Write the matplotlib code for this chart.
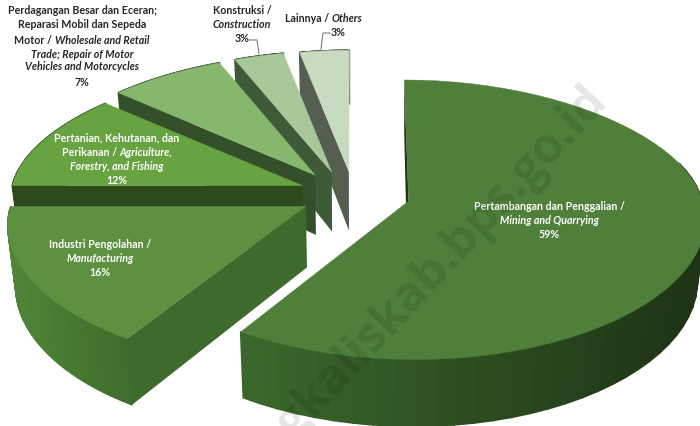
#Pie 3D meledak, digambar sebagai poligon
import numpy as np
import matplotlib
matplotlib.use("Agg")
import matplotlib.pyplot as plt
from matplotlib.colors import to_rgb

# data
sektor = ["Pertambangan", "Industri", "Pertanian", "Perdagangan", "Konstruksi", "Lainnya"]
nilai = [59, 16, 12, 7, 3, 3]
warna_atas = ["#4f7f3a", "#5d9140", "#67a340", "#85b86c", "#a8c79a", "#c8dabf"]
warna_potong = ["#1f3315", "#3f6a2e", "#2c4a1b", "#33502a", "#3f5a38", "#555f50"]
warna_kiri = ["#3b682c", "#4e8436", "#2c4a1b", "#33502a", "#3f5a38", "#555f50"]
warna_kanan = ["#1f3315", "#3d6b2d", "#2c4a1b", "#33502a", "#3f5a38", "#555f50"]
geser = [0, 0, -1, -9, -8, -1]

# tiap baris: potongan (teks, miring)
label_main = [[("Pertambangan dan Penggalian /", False)], [("Mining and Quarrying", True)], [("59%", False)]]
label_ind = [[("Industri Pengolahan /", False)], [("Manufacturing", True)], [("16%", False)]]
label_tani = [[("Pertanian, Kehutanan, dan", False)],
              [("Perikanan / ", False), ("Agriculture,", True)],
              [("Forestry, and Fishing", True)], [("12%", False)]]
label_dagang = [[("Perdagangan Besar dan Eceran;", False)], [("Reparasi Mobil dan Sepeda", False)],
                [("Motor / ", False), ("Wholesale and Retail", True)],
                [("Trade; Repair of Motor", True)], [("Vehicles and Motorcycles", True)], [("7%", False)]]
label_kons = [[("Konstruksi /", False)], [("Construction", True)], [("3%", False)]]
label_lain = [[("Lainnya / ", False), ("Others", True)]]

cx, cy = 355, 195
rx = 292
ledak = 0.19


def proyeksi(X, V, d=0.0):
    s = np.where(V > 0, 1 - 0.08 * V, 1 - 0.12 * V)
    x = cx + rx * X * s
    # bagian depan lebih lebar dari bagian belakang
    naik = np.where(V > 0, 119 * V + 1.5 * V ** 2, 133 * V - 23 * V ** 2)
    y = cy - naik
    if d:
        x = cx + (x - cx) * 0.977
        y = y + d - 6 * V
    return x, y


def campur(c1, c2, t):
    a = np.array(to_rgb(c1))
    b = np.array(to_rgb(c2))
    return tuple(a + (b - a) * t)


def teks(ax, xc, y, baris, warna, fs=7.7):
    # ukur dulu semua potongan supaya satu baris bisa di tengah
    r = fig.canvas.get_renderer()
    items = []
    for isi, miring in baris:
        gaya = "italic" if miring else "normal"
        t = ax.text(0, y, isi.replace(" ", "\u00a0"), color=warna, fontsize=fs, family="Lato", weight="bold",
                    style=gaya, ha="left", va="center")
        items.append((t, t.get_window_extent(r).width))
    x = xc - sum(w for _, w in items) / 2
    for t, w in items:
        t.set_x(x)
        x += w


fig = plt.figure(figsize=(7, 4.27), dpi=100)
ax = fig.add_axes([0, 0, 1, 1])
ax.set_xlim(0, 700)
ax.set_ylim(427, 0)
ax.axis("off")

# sudut searah jarum jam dari atas, belakang digambar dulu
batas = np.cumsum([0] + nilai) / sum(nilai) * 2 * np.pi
for i in range(len(nilai) - 1, -1, -1):
    t0, t1 = batas[i], batas[i + 1]
    tm = (t0 + t1) / 2
    X0 = ledak * np.sin(tm)
    V0 = ledak * np.cos(tm)
    th = np.linspace(t0, t1, 60)
    Xa = X0 + np.sin(th)
    Va = V0 + np.cos(th)
    xa, ya = proyeksi(Xa, Va)
    xb, yb = proyeksi(Xa, Va, 60.5)
    xp, yp = proyeksi(X0, V0)
    xq, yq = proyeksi(X0, V0, 60.5)
    xa, xb, xp, xq = xa + geser[i], xb + geser[i], xp + geser[i], xq + geser[i]

    # dinding busur
    x1, x2 = xb.min(), xb.max()
    for j in range(len(th) - 1):
        if i == 0 and Va[j] > 0.3:
            continue
        t = np.clip(((xa[j] + xa[j + 1]) / 2 - x1) / (x2 - x1), 0, 1)
        c = campur(warna_kiri[i], warna_kanan[i], t)
        ax.fill([xa[j], xa[j + 1], xb[j + 1], xb[j]], [ya[j], ya[j + 1], yb[j + 1], yb[j]],
                facecolor=c, edgecolor=c, lw=1.2)

    # dinding potongan (tepi awal tiap irisan)
    if i == 0:
        ax.fill([xp, xa[0], xa[0], xq], [yp, ya[0], yb[0], yq], color=warna_potong[i], lw=0)
    else:
        ax.fill([xp, xa[0], xb[0], xq], [yp, ya[0], yb[0], yq], color=warna_potong[i], lw=0)

    # permukaan atas
    ax.fill(np.r_[xp, xa], np.r_[yp, ya], color=warna_atas[i], lw=0.3)

# garis penunjuk
ax.plot([249, 257, 259], [41, 41, 55], color="#7f7f7f", lw=0.8)
ax.plot([330, 323, 321], [34, 34, 50], color="#7f7f7f", lw=0.8)

# label
for baris, y in zip(label_main, [207, 221, 235]):
    teks(ax, 549, y, baris, "white")
for baris, y in zip(label_ind, [245, 259, 273]):
    teks(ax, 100, y, baris, "white")
for baris, y in zip(label_tani, [138, 153, 167, 181]):
    teks(ax, 117, y, baris, "white")
for baris, y in zip(label_dagang, [11, 25, 40, 54, 67, 82]):
    teks(ax, 82, y, baris, "#262626")
for baris, y in zip(label_kons, [10, 24, 38]):
    teks(ax, 242, y, baris, "#262626")
teks(ax, 324, 19, label_lain[0], "#262626")
teks(ax, 338, 32, [("3%", False)], "#262626")

# watermark
ax.text(599, 92, "bengkaliskab.bps.go.id", color="black", alpha=0.1, fontsize=35, family="Open Sans",
        weight="bold", rotation=47, rotation_mode="anchor", ha="right", va="center", clip_on=False)

fig.savefig("out.png", dpi=100)
